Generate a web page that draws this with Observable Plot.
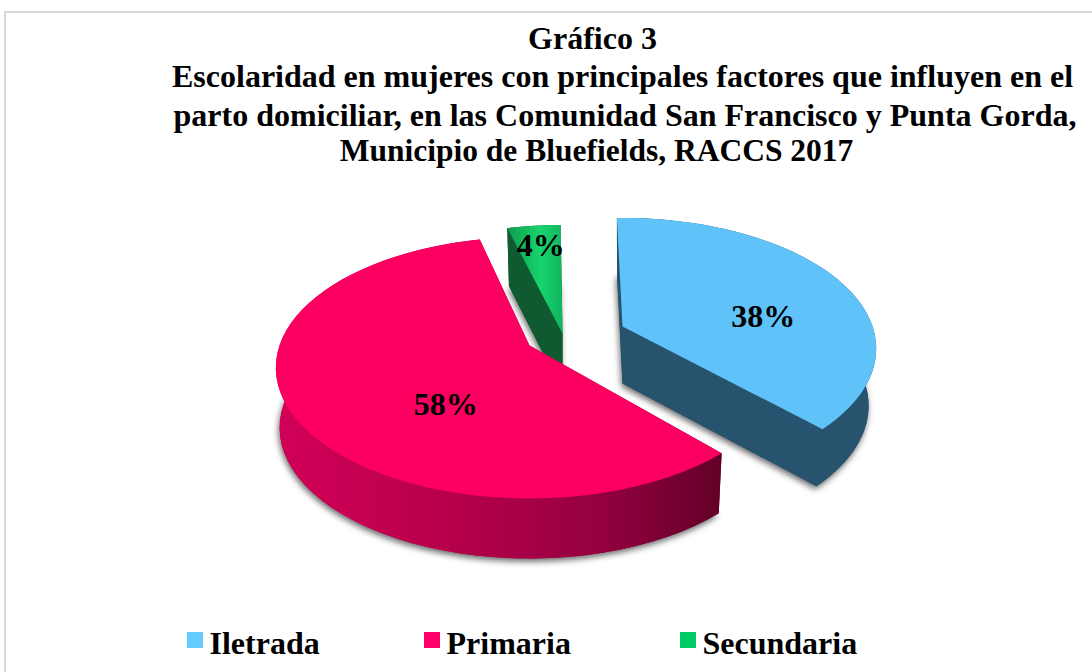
<!DOCTYPE html>
<html><head><meta charset="utf-8">
<style>html,body{margin:0;padding:0;background:#fff;overflow:hidden}svg{display:block}</style>
<script src="https://cdn.jsdelivr.net/npm/d3@7"></script>
<script src="https://cdn.jsdelivr.net/npm/@observablehq/plot@0.6"></script>
</head><body><div id="chart"></div>
<script>
const categories = ["Iletrada", "Primaria", "Secundaria"];
const percents = [38, 58, 4];
const legendColors = ["#66ccff", "#ff0066", "#00cc66"];
const topColors = ["#5fc2f8", "#fb0060", "url(#greenTop)"];
const sideColors = ["#27536f", "url(#pinkSide)", "#0f5a30"];
const titleLines = ["Gráfico 3",
  "Escolaridad en mujeres con principales factores que influyen en el",
  "parto domiciliar, en las Comunidad San Francisco y Punta Gorda,",
  "Municipio de Bluefields, RACCS 2017"];

// Layout of the tilted pie
const R = 250, B = 127, P = 0.17, START = -1.5;
const apex = [[622, 326], [529, 345], [562, 333]];
const depth = [57, 60, 58];
const floorScale = [0.97, 0.985, 0.97];
const nudge = [0, 2.5, 1];
const drawOrder = [2, 0, 1];
const labelAt = [{r: .6, dx: 8, dy: 19}, {r: .38, dx: 3, dy: 36}, {r: .88, dx: 4, dy: 9}];

function project(i, deg, r, floor) {
  const t = deg * Math.PI / 180, u = r * Math.sin(t), v = -r * Math.cos(t), s = 1 / (1 - P * v);
  const k = floor ? floorScale[i] : 1;
  return {x: apex[i][0] + R * u * s * k, y: apex[i][1] + B * v * s + (floor ? depth[i] : 0)};
}
let cum = START;
const spans = percents.map((p, i) => {
  const a0 = cum + nudge[i], a1 = cum + p * 3.6 + nudge[i];
  cum += p * 3.6;
  return [a0, a1];
});
const arc = (i, floor) => d3.range(61).map(k =>
  project(i, spans[i][0] + (spans[i][1] - spans[i][0]) * k / 60, 1, floor));
const topFace = i => [project(i, 0, 0, false), ...arc(i, false)];
const floorFace = i => [project(i, 0, 0, true), ...arc(i, true)];
const wall = (i, j) => [project(i, spans[i][j], 1, false), project(i, 0, 0, false),
                        project(i, 0, 0, true), project(i, spans[i][j], 1, true)];
const rim = i => [...arc(i, false), ...arc(i, true).reverse()];
const shape = (pts, fill, extra = {}) => Plot.line(pts, {x: "x", y: "y", fill, stroke: "none", ...extra});

const labels = percents.map((p, i) => {
  const c = project(i, (spans[i][0] + spans[i][1]) / 2, labelAt[i].r, false);
  return {x: c.x + labelAt[i].dx, y: c.y + labelAt[i].dy, text: p + "%"};
});

const legendX = [187, 424, 680];
const legend = categories.map((c, i) => ({c, i, x1: legendX[i], x2: legendX[i] + 16, y1: 632, y2: 648, tx: legendX[i] + 22, ty: 643}));
const titleRows = titleLines.map((t, i) => ({t, x: [592, 622, 624.5, 596][i], y: [38, 76, 115, 150][i], s: [32, 32, 32, 31.5][i]}));

function defs() {
  const d = d3.create("svg:defs");
  const grad = (id, x1, x2, stops) => {
    const g = d.append("linearGradient").attr("id", id).attr("gradientUnits", "userSpaceOnUse")
      .attr("x1", x1).attr("x2", x2).attr("y1", 0).attr("y2", 0);
    stops.forEach(([o, c]) => g.append("stop").attr("offset", o).attr("stop-color", c));
  };
  grad("pinkSide", 273, 722, [[0, "#d20058"], [.4, "#b6004b"], [.72, "#950040"], [1, "#620027"]]);
  grad("greenTop", 507, 562, [[0, "#109c50"], [.6, "#17d46e"], [1, "#12b45e"]]);
  return d.node();
}

const marks = [
  defs,
  Plot.rect([{}], {x1: 5, x2: 1100, y1: 12, y2: 700, fill: "#fff", stroke: "#d9d9d9", strokeWidth: 2}),
];
for (const i of drawOrder) {
  marks.push(shape([...arc(i, true), project(i, 0, 0, true)].map(p => ({x: p.x - 1, y: p.y + 3})),
    "#333", {imageFilter: "blur(3px)", fillOpacity: .75}));
  marks.push(shape(floorFace(i), sideColors[i]));
  marks.push(shape(wall(i, 0), sideColors[i]));
  marks.push(shape(wall(i, 1), sideColors[i]));
  marks.push(shape(rim(i), sideColors[i]));
  marks.push(shape(topFace(i), topColors[i]));
}
marks.push(
  Plot.text(labels, {x: "x", y: "y", text: "text", fontSize: 32, fontWeight: "bold", fontFamily: "Liberation Serif", fill: "#000"}),
  ...titleRows.map(r => Plot.text([r], {x: "x", y: "y", text: "t", fontSize: r.s, fontWeight: "bold", fontFamily: "Liberation Serif", fill: "#000"})),
  Plot.rect(legend, {x1: "x1", x2: "x2", y1: "y1", y2: "y2", fill: d => legendColors[d.i]}),
  Plot.text(legend, {x: "tx", y: "ty", text: "c", textAnchor: "start", fontSize: 32, fontWeight: "bold", fontFamily: "Liberation Serif", fill: "#000"})
);

document.getElementById("chart").append(Plot.plot({
  width: 1092, height: 672, margin: 0,
  x: {domain: [0, 1092], range: [0, 1092], axis: null},
  y: {domain: [0, 672], range: [0, 672], axis: null},
  marks
}));
</script></body></html>
